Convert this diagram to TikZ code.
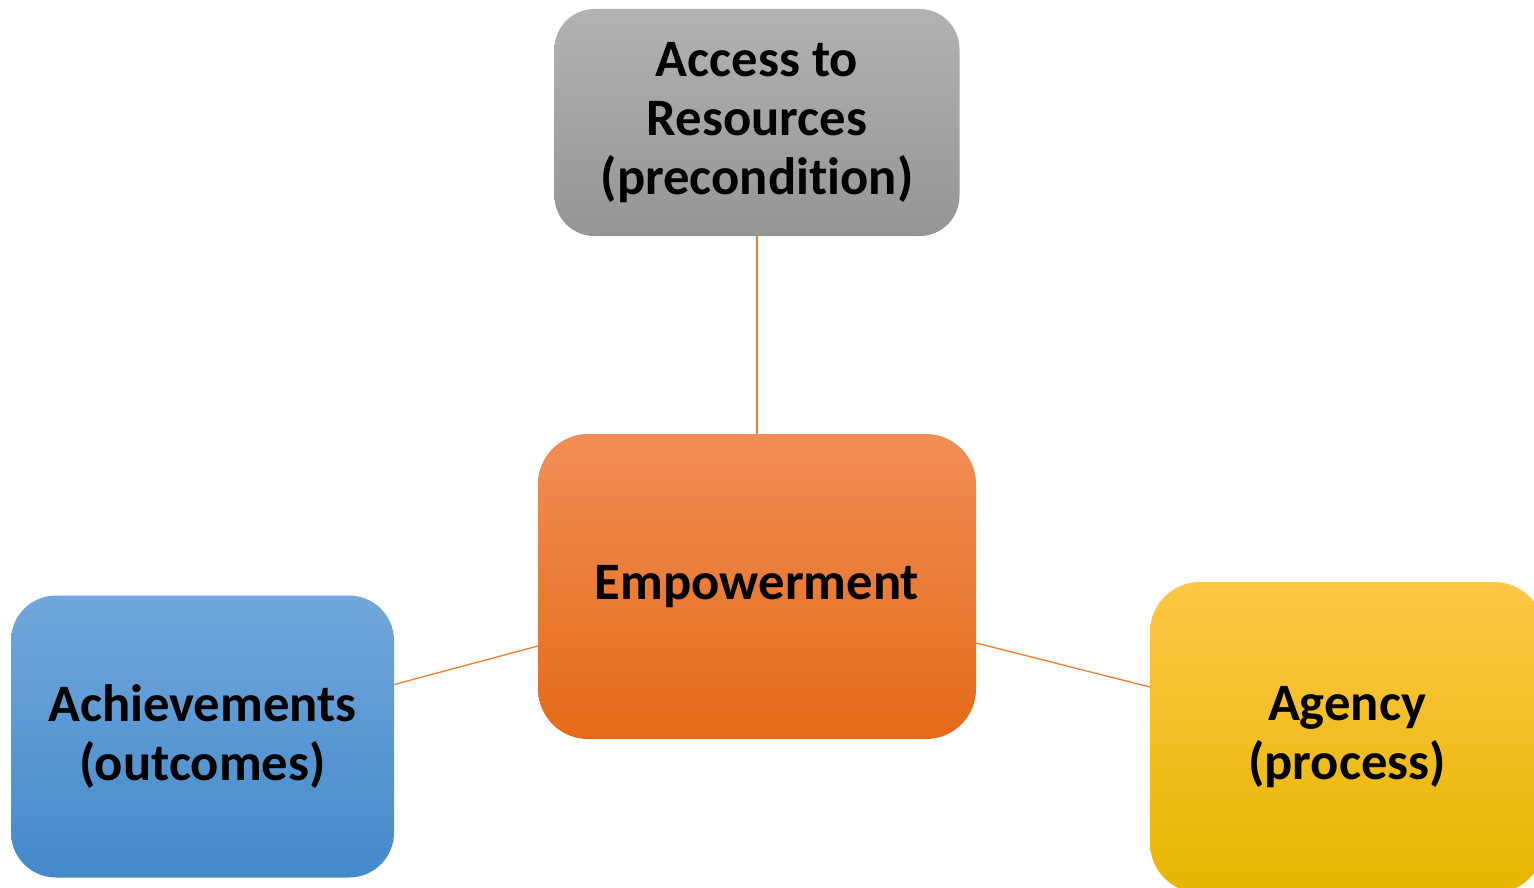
\documentclass[tikz,border=0pt]{standalone}
\usepackage{fontspec}
\setmainfont{Carlito}[Ligatures=NoCommon]
\usetikzlibrary{calc}
\definecolor{linec}{HTML}{ED7D31}
\definecolor{grayT}{HTML}{B2B2B2}
\definecolor{grayB}{HTML}{959595}
\definecolor{oraT}{HTML}{F18E57}
\definecolor{oraM}{HTML}{F47B2A}
\definecolor{oraB}{HTML}{E46A17}
\definecolor{bluT}{HTML}{71A7DC}
\definecolor{bluM}{HTML}{5B9BD5}
\definecolor{bluB}{HTML}{4489CA}
\definecolor{yelT}{HTML}{FFC746}
\definecolor{yelM}{HTML}{FFC000}
\definecolor{yelB}{HTML}{E6B500}
\begin{document}
\begin{tikzpicture}[x=1pt,y=-1pt,
  box/.style={draw=none, inner sep=0pt, align=center, text=black,
    font=\fontsize{52.6}{59}\selectfont\bfseries},
  conn/.style={draw=linec, line width=1.3pt}]
\useasboundingbox (0,0) rectangle (1534,888);
\clip (0,0) rectangle (1534,888);
\node[box, rounded corners=40pt, minimum width=405pt, minimum height=227pt,
  top color=grayT, bottom color=grayB] (res) at (757,122.5) {Access to\\Resources\\(precondition)};
\node[box, rounded corners=50pt, minimum width=438pt, minimum height=305pt,
  top color=oraT, middle color=oraM, bottom color=oraB] (emp) at (757,586.5) {Empowerment};
\node[box, rounded corners=45pt, minimum width=383pt, minimum height=282pt,
  top color=bluT, middle color=bluM, bottom color=bluB] (ach) at (202.5,736.5) {Achievements\\(outcomes)};
\node[box, rounded corners=50pt, minimum width=394pt, minimum height=311pt,
  top color=yelT, middle color=yelM, bottom color=yelB] (age) at (1347,737.5) {Agency\\(process)};
\draw[conn] (res.south) -- (emp.north);
\draw[conn] ([yshift=52pt]ach.east) -- ([yshift=-59.5pt]emp.west);
\draw[conn] ([yshift=-56.5pt]emp.east) -- ([yshift=50.5pt]age.west);
\end{tikzpicture}
\end{document}
